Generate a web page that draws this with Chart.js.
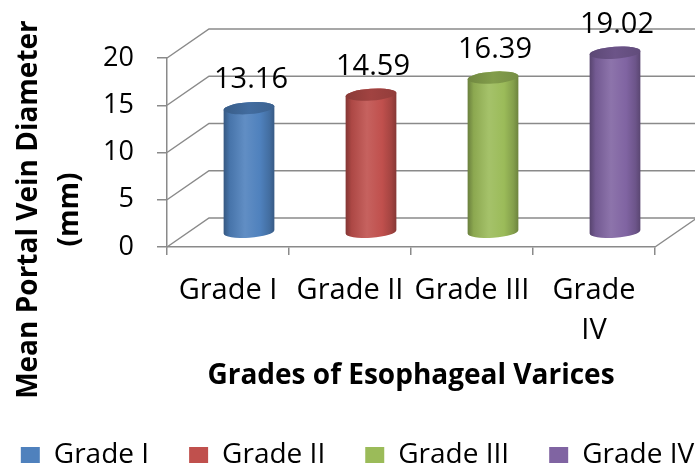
<!DOCTYPE html>
<html>
<head>
<meta charset="utf-8">
<script src="https://cdn.jsdelivr.net/npm/chart.js@4/dist/chart.umd.min.js"></script>
<style>
html, body { margin:0; padding:0; overflow:hidden; background:#ffffff; width:695px; height:465px; }
#wrap { position:relative; width:755px; height:480px; }
</style>
</head>
<body>
<div id="wrap"><canvas id="c"></canvas></div>
<script>
// ---- data ----
const categories = ['Grade I', 'Grade II', 'Grade III', 'Grade IV'];
const tickLabels = [['Grade I'], ['Grade II'], ['Grade III'], ['Grade', 'IV']];
const values = [13.16, 14.59, 16.39, 19.02];
const colors = ['#4F81BD', '#C0504D', '#9BBB59', '#8064A2'];
const yMin = 0, yMax = 20, yStep = 5;
const xTitle = 'Grades of Esophageal Varices';
const yTitle = ['Mean Portal Vein Diameter', '(mm)'];

// ---- style ----
const GRID = '#8a8a8a';
const DX = 42, DY = -29;      // depth of the 3D box
const RY = 6, ROT = -0.07;    // cylinder ellipse
const FONT = 'Open Sans';

function shade(hex, f) {
  const n = parseInt(hex.slice(1), 16);
  const r = n >> 16, g = (n >> 8) & 255, b = n & 255;
  const m = c => Math.max(0, Math.min(255, Math.round(f > 1 ? c + (255 - c) * (f - 1) : c * f)));
  return 'rgb(' + m(r) + ',' + m(g) + ',' + m(b) + ')';
}

const box3d = {
  id: 'box3d',
  beforeDatasetsDraw(chart) {
    const { ctx, chartArea: { left, right }, scales: { y } } = chart;
    ctx.save();
    ctx.strokeStyle = GRID;
    ctx.lineWidth = 1.5;
    ctx.beginPath();
    y.ticks.forEach(t => {
      const py = y.getPixelForValue(t.value);
      ctx.moveTo(left, py);
      ctx.lineTo(left + DX, py + DY);
      ctx.lineTo(right + DX, py + DY);
    });
    const p0 = y.getPixelForValue(yMin);
    ctx.moveTo(right, p0);
    ctx.lineTo(right + DX, p0 + DY);
    ctx.stroke();
    ctx.restore();
  },
  beforeDatasetDraw() { return false; },
  afterDatasetsDraw(chart) {
    const ctx = chart.ctx;
    const meta = chart.getDatasetMeta(0);
    meta.data.forEach((bar, i) => {
      const { x, y, base, width } = bar.getProps(['x', 'y', 'base', 'width'], true);
      const cx = x + DX / 2, top = y + DY / 2, bot = base + DY / 2, rx = width / 2;
      const c = colors[i];
      ctx.save();
      const g = ctx.createLinearGradient(cx - rx, 0, cx + rx, 0);
      g.addColorStop(0, shade(c, 0.68));
      g.addColorStop(0.12, shade(c, 0.9));
      g.addColorStop(0.42, shade(c, 1.1));
      g.addColorStop(0.72, shade(c, 1.0));
      g.addColorStop(0.9, shade(c, 0.85));
      g.addColorStop(1, shade(c, 0.7));
      ctx.beginPath();
      ctx.ellipse(cx, bot, rx, RY, ROT, Math.PI, 0, true);
      ctx.ellipse(cx, top, rx, RY, ROT, 0, Math.PI, true);
      ctx.closePath();
      ctx.fillStyle = g;
      ctx.fill();
      const g2 = ctx.createLinearGradient(cx - rx, 0, cx + rx, 0);
      g2.addColorStop(0, shade(c, 0.72));
      g2.addColorStop(0.5, shade(c, 0.84));
      g2.addColorStop(1, shade(c, 0.76));
      ctx.beginPath();
      ctx.ellipse(cx, top, rx, RY, ROT, 0, Math.PI * 2);
      ctx.fillStyle = g2;
      ctx.fill();
      ctx.fillStyle = '#000';
      ctx.font = '29px "' + FONT + '"';
      ctx.textAlign = 'center';
      ctx.textBaseline = 'alphabetic';
      ctx.fillText(values[i].toFixed(2), cx + 2, top - 20);
      ctx.restore();
    });
  },
  afterDraw(chart) {
    const ctx = chart.ctx;
    const { top, bottom } = chart.chartArea;
    ctx.save();
    ctx.fillStyle = '#000';
    ctx.font = 'bold 28px "' + FONT + '"';
    ctx.textAlign = 'center';
    ctx.textBaseline = 'alphabetic';
    ctx.translate(0, (top + bottom) / 2 + 57);
    ctx.rotate(-Math.PI / 2);
    ctx.fillText(yTitle[0], 0, 37);
    ctx.fillText(yTitle[1], 0, 78);
    ctx.restore();
  }
};

Chart.defaults.font.family = FONT;
Chart.defaults.color = '#000';

new Chart(document.getElementById('c'), {
  type: 'bar',
  data: {
    labels: categories,
    datasets: [{
      label: 'Mean Portal Vein Diameter',
      data: values,
      backgroundColor: colors,
      barPercentage: 0.417,
      categoryPercentage: 1.0
    }]
  },
  options: {
    responsive: true,
    maintainAspectRatio: false,
    animation: false,
    devicePixelRatio: 1,
    layout: { padding: { top: 58, left: -40, right: 0, bottom: 1 } },
    plugins: {
      tooltip: { enabled: false },
      legend: {
        position: 'bottom',
        align: 'center',
        labels: {
          boxWidth: 19,
          boxHeight: 16,
          padding: 40,
          color: '#000',
          font: { family: FONT, size: 28 },
          generateLabels: () => categories.map((c, i) => ({
            text: c, fillStyle: colors[i], strokeStyle: colors[i], lineWidth: 0,
            hidden: false, index: i, datasetIndex: 0
          }))
        }
      }
    },
    scales: {
      x: {
        type: 'category',
        offset: true,
        grid: { display: true, offset: true, drawOnChartArea: false, drawTicks: true, tickLength: 8, color: GRID, lineWidth: 1.5 },
        border: { display: true, color: GRID, width: 1.5 },
        ticks: {
          color: '#000', font: { family: FONT, size: 29, lineHeight: '40px' }, padding: 16,
          maxRotation: 0, minRotation: 0, autoSkip: false,
          callback: (v, i) => tickLabels[i]
        },
        title: {
          display: true, text: xTitle, color: '#000',
          font: { family: FONT, size: 28, weight: 'bold', lineHeight: 1.2 },
          padding: { top: 0, bottom: 8 }
        },
        afterFit: s => { s.height = 154; }
      },
      y: {
        min: yMin, max: yMax,
        ticks: { stepSize: yStep, padding: 23, color: '#000', font: { family: FONT, size: 27 } },
        grid: { drawOnChartArea: false, drawTicks: true, tickLength: 10, color: GRID, lineWidth: 1.5 },
        border: { display: true, color: GRID, width: 1.5 },
        afterFit: s => { s.width = 207; }
      },
      y2: {
        position: 'right',
        display: true,
        grid: { display: false },
        border: { display: false },
        ticks: { display: false },
        afterFit: s => { s.width = 100; }
      }
    }
  },
  plugins: [box3d]
});
</script>
</body>
</html>
